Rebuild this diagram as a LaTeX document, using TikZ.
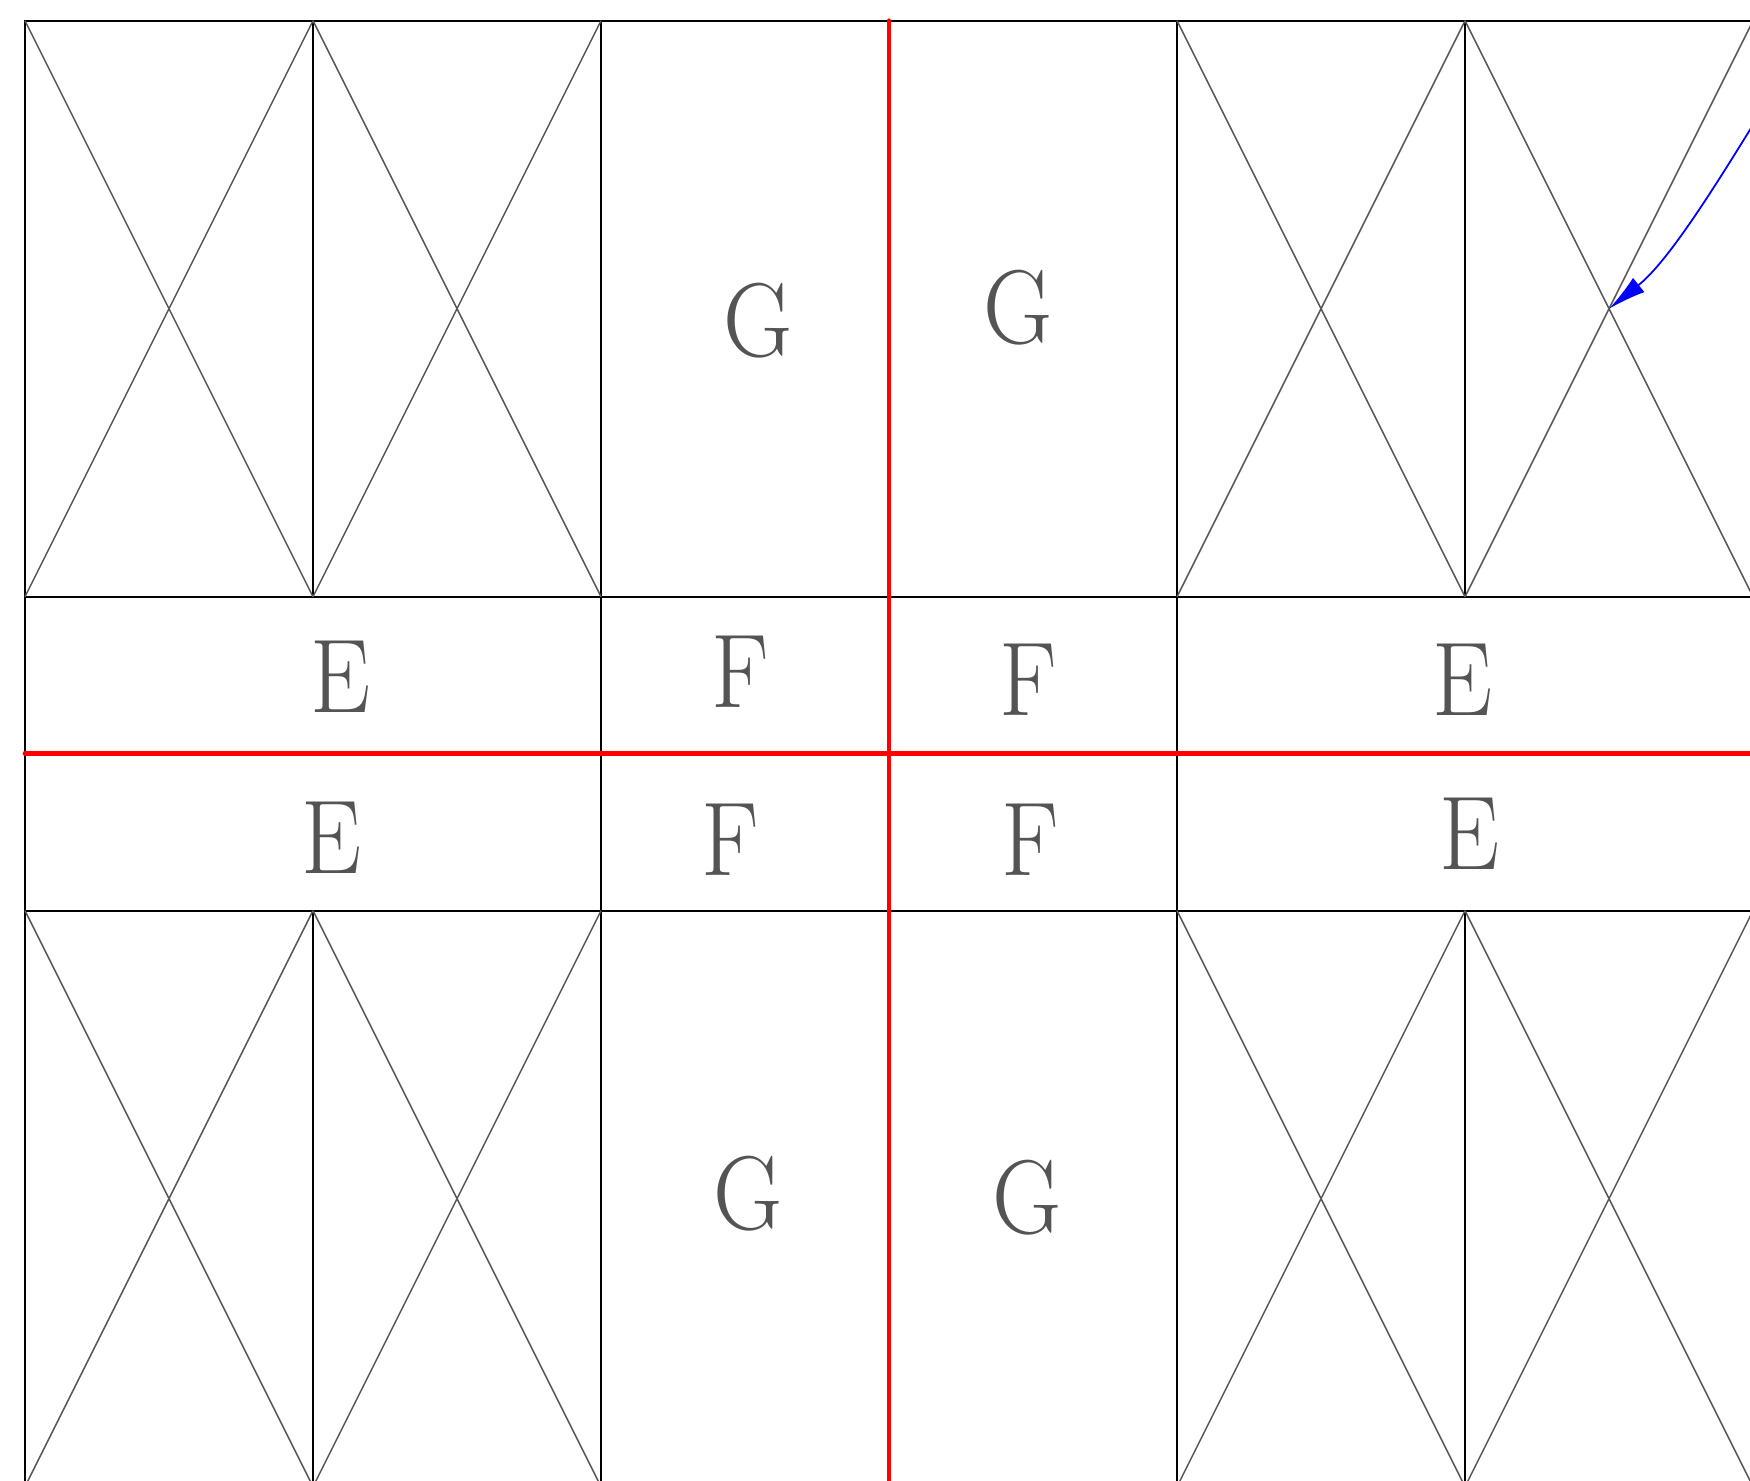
\documentclass[tikz,border=0pt]{standalone}
\usetikzlibrary{arrows.meta}

\newcommand{\schmal}[1]{\scalebox{0.91}[1]{#1}}

\tikzset{
  feld/.style={black, line width=0.35pt},
  kreuz/.style={black!65, line width=0.3pt},
  achse/.style={red, line width=0.95pt, line cap=round},
  buchst/.style={text=black!67, font=\huge, inner sep=0pt},
  zeiger/.style={blue, line width=0.35pt, -{Latex[length=7.5pt,width=3.6pt]}}
}

\begin{document}
\begin{tikzpicture}
    \clip (-0.1736,0.1438) rectangle (11.979,-10.134);

    % Raster oben
    \draw[feld] (0,0) rectangle (12,-4);
    \draw[feld] (2,0) -- (2,-4);
    \draw[feld] (4,0) -- (4,-4);
    \draw[feld] (6,0) -- (6,-4);
    \draw[feld] (8,0) -- (8,-4);
    \draw[feld] (10,0) -- (10,-4);

    % Raster Mitte
    \draw[feld] (0,-4) rectangle (12,-6.18);
    \draw[feld] (4,-4) -- (4,-6.18);
    \draw[feld] (8,-4) -- (8,-6.18);

    % Raster unten
    \draw[feld] (0,-6.18) rectangle (12,-10.18);
    \draw[feld] (2,-6.18) -- (2,-10.18);
    \draw[feld] (4,-6.18) -- (4,-10.18);
    \draw[feld] (6,-6.18) -- (6,-10.18);
    \draw[feld] (8,-6.18) -- (8,-10.18);
    \draw[feld] (10,-6.18) -- (10,-10.18);

    % Kreuze oben
    \draw[kreuz] (0,0) -- (2,-4);   \draw[kreuz] (2,0) -- (0,-4);
    \draw[kreuz] (2,0) -- (4,-4);   \draw[kreuz] (4,0) -- (2,-4);
    \draw[kreuz] (8,0) -- (10,-4);  \draw[kreuz] (10,0) -- (8,-4);
    \draw[kreuz] (10,0) -- (12,-4); \draw[kreuz] (12,0) -- (10,-4);

    % Kreuze unten
    \draw[kreuz] (0,-6.18) -- (2,-10.18);   \draw[kreuz] (2,-6.18) -- (0,-10.18);
    \draw[kreuz] (2,-6.18) -- (4,-10.18);   \draw[kreuz] (4,-6.18) -- (2,-10.18);
    \draw[kreuz] (8,-6.18) -- (10,-10.18);  \draw[kreuz] (10,-6.18) -- (8,-10.18);
    \draw[kreuz] (10,-6.18) -- (12,-10.18); \draw[kreuz] (12,-6.18) -- (10,-10.18);

    % Symmetrieachsen
    \draw[achse] (6,0) -- (6,-10.4);
    \draw[achse] (0,-5.09) -- (12.2,-5.09);

    % Beschriftung
    \node[buchst] (g1) at (5.09,-2.085) {\schmal{G}};
    \node[buchst] (g2) at (6.90,-1.99) {\schmal{G}};
    \node[buchst] (e1) at (2.19,-4.557) {\schmal{E}};
    \node[buchst] (f1) at (4.97,-4.52) {\schmal{F}};
    \node[buchst] (f2) at (6.965,-4.578) {\schmal{F}};
    \node[buchst] (e2) at (9.98,-4.578) {\schmal{E}};
    \node[buchst] (e3) at (2.13,-5.676) {\schmal{E}};
    \node[buchst] (f3) at (4.90,-5.69) {\schmal{F}};
    \node[buchst] (f4) at (6.98,-5.69) {\schmal{F}};
    \node[buchst] (e4) at (10.03,-5.648) {\schmal{E}};
    \node[buchst] (g3) at (5.02,-8.148) {\schmal{G}};
    \node[buchst] (g4) at (6.96,-8.176) {\schmal{G}};

    % Pfeil
    \coordinate (start) at (12.45,0);
    \coordinate (mitte) at (11,-2);
    \draw[zeiger] (start) .. controls (12,-0.7) and (11.5,-1.6) .. (mitte);
\end{tikzpicture}
\end{document}
